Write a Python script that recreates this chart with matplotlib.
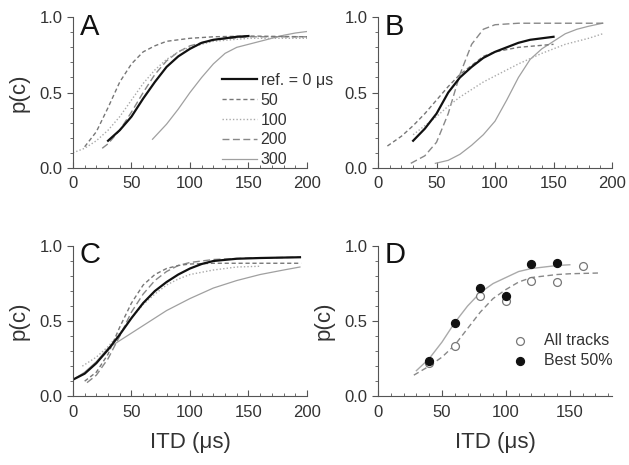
import matplotlib
matplotlib.use('Agg')
from matplotlib import pyplot as plt
from matplotlib.ticker import MultipleLocator

plt.rcParams['font.family'] = ['Liberation Sans', 'DejaVu Sans']

# ---- panel A ----
a_ref_x = [30, 40, 50, 60, 70, 80, 90, 100, 110, 120, 130, 140, 150]
a_ref_y = [0.18, 0.25, 0.34, 0.46, 0.57, 0.67, 0.74, 0.79, 0.83, 0.85, 0.86, 0.87, 0.875]
a_50_x = [10, 20, 30, 40, 50, 60, 70, 80, 100, 120, 150, 200]
a_50_y = [0.14, 0.24, 0.40, 0.57, 0.69, 0.77, 0.81, 0.84, 0.86, 0.87, 0.875, 0.87]
a_100_x = [0, 10, 20, 30, 40, 50, 60, 70, 80, 90, 100, 120, 150, 200]
a_100_y = [0.10, 0.13, 0.18, 0.25, 0.34, 0.45, 0.56, 0.65, 0.72, 0.77, 0.80, 0.84, 0.86, 0.86]
a_200_x = [25, 30, 40, 50, 60, 70, 80, 90, 100, 120, 150, 200]
a_200_y = [0.13, 0.16, 0.25, 0.37, 0.50, 0.62, 0.71, 0.77, 0.81, 0.85, 0.87, 0.87]
a_300_x = [68, 80, 90, 100, 110, 120, 130, 140, 150, 160, 170, 180, 190, 200]
a_300_y = [0.19, 0.29, 0.39, 0.50, 0.60, 0.69, 0.76, 0.80, 0.82, 0.84, 0.86, 0.88, 0.895, 0.905]

# ---- panel B ----
b_ref_x = [30, 40, 50, 60, 70, 80, 90, 100, 110, 120, 130, 140, 150]
b_ref_y = [0.18, 0.26, 0.36, 0.50, 0.60, 0.67, 0.73, 0.77, 0.80, 0.83, 0.85, 0.86, 0.87]
b_50_x = [8, 20, 30, 40, 50, 60, 70, 80, 90, 100, 120, 150]
b_50_y = [0.145, 0.21, 0.28, 0.36, 0.45, 0.54, 0.62, 0.68, 0.74, 0.77, 0.80, 0.82]
b_100_x = [30, 40, 50, 60, 70, 80, 90, 100, 120, 140, 160, 180, 192]
b_100_y = [0.22, 0.28, 0.34, 0.41, 0.47, 0.52, 0.57, 0.61, 0.69, 0.76, 0.82, 0.86, 0.89]
b_200_x = [28, 40, 50, 60, 70, 80, 90, 100, 120, 150, 193]
b_200_y = [0.03, 0.08, 0.17, 0.36, 0.62, 0.82, 0.92, 0.95, 0.96, 0.96, 0.96]
b_300_x = [49, 60, 70, 80, 90, 100, 110, 120, 130, 140, 150, 160, 170, 180, 192]
b_300_y = [0.03, 0.05, 0.09, 0.15, 0.22, 0.31, 0.45, 0.60, 0.72, 0.79, 0.84, 0.89, 0.92, 0.94, 0.96]

# ---- panel C ----
c_ref_x = [0, 10, 20, 30, 40, 50, 60, 70, 80, 90, 100, 110, 120, 140, 160, 194]
c_ref_y = [0.11, 0.15, 0.22, 0.31, 0.41, 0.52, 0.62, 0.70, 0.76, 0.81, 0.85, 0.88, 0.90, 0.915, 0.92, 0.925]
c_50_x = [10, 20, 30, 40, 50, 60, 70, 80, 90, 100, 120, 150, 195]
c_50_y = [0.10, 0.16, 0.28, 0.46, 0.62, 0.74, 0.81, 0.85, 0.87, 0.88, 0.885, 0.885, 0.885]
c_100_x = [8, 20, 30, 40, 50, 60, 70, 80, 90, 100, 120, 140, 160]
c_100_y = [0.20, 0.26, 0.33, 0.42, 0.52, 0.61, 0.68, 0.74, 0.78, 0.81, 0.84, 0.86, 0.865]
c_200_x = [12, 20, 30, 40, 50, 60, 70, 80, 90, 100, 120, 150, 195]
c_200_y = [0.09, 0.14, 0.25, 0.40, 0.56, 0.68, 0.77, 0.83, 0.87, 0.89, 0.91, 0.92, 0.925]
c_300_x = [0, 10, 20, 30, 40, 60, 80, 100, 120, 140, 160, 180, 194]
c_300_y = [0.11, 0.16, 0.23, 0.32, 0.37, 0.47, 0.57, 0.65, 0.72, 0.77, 0.81, 0.84, 0.86]

# ---- panel D ----
d_itd = [40, 60, 80, 100, 120, 140, 160]
d_all = [0.22, 0.335, 0.665, 0.635, 0.77, 0.76, 0.87]
d_best_itd = [40, 60, 80, 100, 120, 140]
d_best = [0.235, 0.485, 0.72, 0.665, 0.88, 0.89]
d_fit_best_x = [30, 40, 50, 60, 70, 80, 90, 100, 110, 120, 130, 140, 150]
d_fit_best_y = [0.17, 0.25, 0.36, 0.49, 0.60, 0.69, 0.75, 0.79, 0.83, 0.85, 0.86, 0.87, 0.875]
d_fit_all_x = [28, 40, 50, 60, 70, 80, 90, 100, 110, 120, 130, 140, 150, 172]
d_fit_all_y = [0.14, 0.20, 0.26, 0.34, 0.45, 0.56, 0.65, 0.71, 0.76, 0.79, 0.80, 0.81, 0.815, 0.82]

labels = ['ref. = 0 \u03bcs', '50', '100', '200', '300']
styles = [
    dict(color='#111111', lw=1.6, ls='-'),
    dict(color='#777777', lw=1.0, ls=(0, (3, 2))),
    dict(color='#aaaaaa', lw=1.0, ls=(0, (1, 1.5))),
    dict(color='#888888', lw=1.0, ls=(0, (5, 2.5))),
    dict(color='#a0a0a0', lw=0.9, ls='-'),
]
GRAY = '#555555'
TXT = '#333333'


def style_axes(ax, letter, xmax=200, ylabel=True, xlabel=False):
    ax.set_xlim(0, xmax)
    ax.set_ylim(0, 1.0)
    for s in ['top', 'right']:
        ax.spines[s].set_visible(False)
    for s in ['left', 'bottom']:
        ax.spines[s].set_color(GRAY)
        ax.spines[s].set_linewidth(0.8)
    ax.xaxis.set_major_locator(MultipleLocator(50))
    ax.xaxis.set_minor_locator(MultipleLocator(10))
    ax.yaxis.set_minor_locator(MultipleLocator(0.1))
    ax.set_yticks([0, 0.5, 1.0])
    ax.set_yticklabels(['0.0', '0.5', '1.0'])
    ax.tick_params(axis='x', which='both', direction='in', color=GRAY,
                   labelcolor=TXT, labelsize=12, pad=6)
    ax.tick_params(axis='y', which='both', direction='out', color=GRAY,
                   labelcolor=TXT, labelsize=12)
    ax.tick_params(which='major', length=4)
    ax.tick_params(which='minor', length=2.5)
    ax.text(0.03, 1.03, letter, transform=ax.transAxes, fontsize=21,
            va='top', ha='left', color='#111111')
    if ylabel:
        ax.set_ylabel('p(c)', fontsize=16, color=TXT, labelpad=7)
    if xlabel:
        ax.set_xlabel('ITD (\u03bcs)', fontsize=16, color=TXT, labelpad=9)


def draw_set(ax, xs, ys, order):
    handles = {}
    for i in order:
        h, = ax.plot(xs[i], ys[i], label=labels[i], **styles[i])
        handles[i] = h
    return [handles[i] for i in range(len(labels))]


def main():
    fig = plt.figure(figsize=(6.29, 4.65), dpi=100)
    ax_a = fig.add_axes([0.116, 0.639, 0.372, 0.324])
    ax_b = fig.add_axes([0.601, 0.639, 0.372, 0.324])
    ax_c = fig.add_axes([0.116, 0.148, 0.372, 0.323])
    ax_d = fig.add_axes([0.601, 0.148, 0.372, 0.323])

    order = [4, 3, 2, 1, 0]

    xs = [a_ref_x, a_50_x, a_100_x, a_200_x, a_300_x]
    ys = [a_ref_y, a_50_y, a_100_y, a_200_y, a_300_y]
    h = draw_set(ax_a, xs, ys, order)
    leg = ax_a.legend(h, labels, loc='upper left', bbox_to_anchor=(0.635, 0.63),
                      frameon=False, fontsize=11.5, handlelength=2.2,
                      handletextpad=0.25, labelspacing=0.3, borderaxespad=0,
                      borderpad=0)
    for t in leg.get_texts():
        t.set_color(TXT)
    style_axes(ax_a, 'A')

    xs = [b_ref_x, b_50_x, b_100_x, b_200_x, b_300_x]
    ys = [b_ref_y, b_50_y, b_100_y, b_200_y, b_300_y]
    draw_set(ax_b, xs, ys, order)
    style_axes(ax_b, 'B', ylabel=False)

    xs = [c_ref_x, c_50_x, c_100_x, c_200_x, c_300_x]
    ys = [c_ref_y, c_50_y, c_100_y, c_200_y, c_300_y]
    draw_set(ax_c, xs, ys, order)
    style_axes(ax_c, 'C', xlabel=True)

    ax_d.plot(d_fit_best_x, d_fit_best_y, color='#aaaaaa', lw=1.0)
    ax_d.plot(d_fit_all_x, d_fit_all_y, color='#888888', lw=1.0, ls=(0, (4, 2.5)))
    ax_d.scatter(d_itd, d_all, s=32, facecolors='white', edgecolors='#777777',
                 linewidths=0.9, zorder=3, label='All tracks')
    ax_d.scatter(d_best_itd, d_best, s=32, color='#111111', zorder=4,
                 label='Best 50%')
    leg = ax_d.legend(loc='upper left', bbox_to_anchor=(0.54, 0.42), frameon=False,
                      fontsize=11.5, handletextpad=0.5, labelspacing=0.3,
                      borderaxespad=0, borderpad=0, scatterpoints=1)
    for t in leg.get_texts():
        t.set_color(TXT)
    style_axes(ax_d, 'D', xmax=183, xlabel=True)

    fig.savefig('out.png', dpi=100)


if __name__ == '__main__':
    main()
